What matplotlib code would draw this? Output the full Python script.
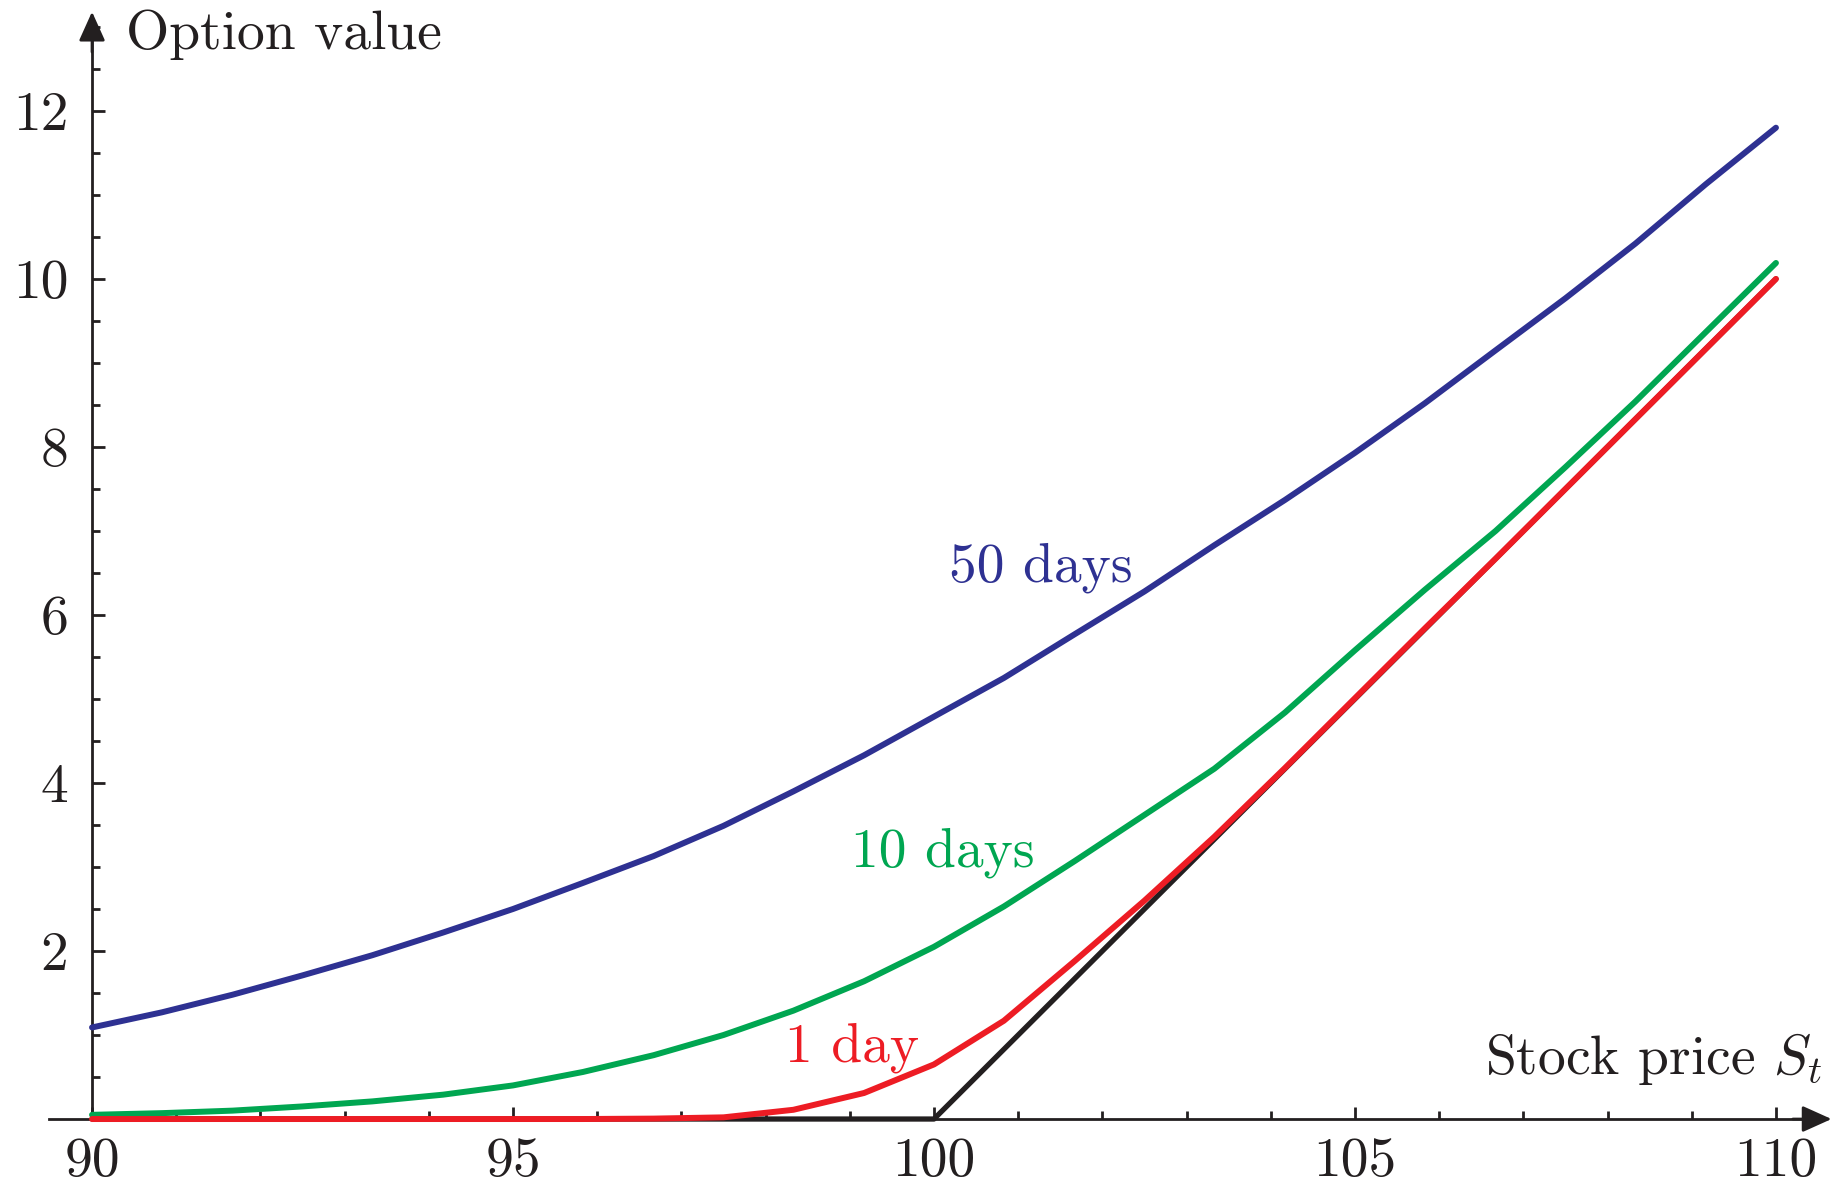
import matplotlib
matplotlib.use("Agg")
import matplotlib.pyplot as plt
from matplotlib.ticker import FixedLocator

# ---- data ----
stock = [90.00, 90.83, 91.67, 92.50, 93.33, 94.17, 95.00, 95.83, 96.67, 97.50,
         98.33, 99.17, 100.00, 100.83, 101.67, 102.50, 103.33, 104.17, 105.00,
         105.83, 106.67, 107.50, 108.33, 109.17, 110.00]
value_50d = [1.09, 1.27, 1.48, 1.71, 1.95, 2.22, 2.50, 2.81, 3.13, 3.49,
             3.90, 4.33, 4.79, 5.25, 5.77, 6.28, 6.83, 7.37, 7.93,
             8.52, 9.15, 9.77, 10.42, 11.13, 11.80]
value_10d = [0.05, 0.07, 0.10, 0.15, 0.21, 0.29, 0.40, 0.56, 0.76, 1.00,
             1.29, 1.64, 2.05, 2.53, 3.07, 3.62, 4.17, 4.84, 5.58,
             6.30, 7.00, 7.76, 8.54, 9.37, 10.19]
value_1d = [0.0, 0.0, 0.0, 0.0, 0.0, 0.0, 0.0, 0.0, 0.005, 0.02,
            0.11, 0.31, 0.65, 1.17, 1.88, 2.60, 3.36, 4.18, 5.01,
            5.84, 6.67, 7.50, 8.33, 9.17, 10.00]
payoff_x = [90, 100, 110]
payoff_y = [0, 0, 10]

x_major = [90, 95, 100, 105, 110]
x_minor = [91, 92, 93, 94, 96, 97, 98, 99, 101, 102, 103, 104, 106, 107, 108, 109]
y_major = [2, 4, 6, 8, 10, 12]
y_minor = [0.5, 1, 1.5, 2.5, 3, 3.5, 4.5, 5, 5.5, 6.5, 7, 7.5, 8.5, 9, 9.5,
           10.5, 11, 11.5, 12.5, 13]

BLUE = "#2E3192"
GREEN = "#00A651"
RED = "#ED1C24"
INK = "#231F20"

plt.rcParams["font.family"] = ["cmr10", "DejaVu Serif"]
plt.rcParams["mathtext.fontset"] = "cm"
plt.rcParams["axes.unicode_minus"] = False
plt.rcParams["axes.formatter.use_mathtext"] = True

FS = 40

fig = plt.figure(figsize=(18.37, 11.88), dpi=100)
ax = fig.add_axes([0, 0, 1, 1])
ax.set_xlim(88.907, 110.725)
ax.set_ylim(-0.821, 13.32)
ax.patch.set_alpha(0)

for s in ("top", "right"):
    ax.spines[s].set_visible(False)
ax.spines["left"].set_position(("data", 90))
ax.spines["bottom"].set_position(("data", 0))
ax.spines["left"].set_bounds(0, 13.0)
ax.spines["bottom"].set_bounds(89.49, 110.4)
for s in ("left", "bottom"):
    ax.spines[s].set_linewidth(2.0)
    ax.spines[s].set_color(INK)
    ax.spines[s].set_zorder(1)

# arrow heads
ax.annotate("", xy=(110.66, 0), xytext=(110.2, 0),
            arrowprops=dict(arrowstyle="-|>,head_length=1.0,head_width=0.45",
                            mutation_scale=18, color=INK, lw=2.0,
                            shrinkA=0, shrinkB=0), zorder=1)
ax.annotate("", xy=(90, 13.18), xytext=(90, 12.7),
            arrowprops=dict(arrowstyle="-|>,head_length=1.0,head_width=0.45",
                            mutation_scale=18, color=INK, lw=2.0,
                            shrinkA=0, shrinkB=0), zorder=1)

ax.xaxis.set_major_locator(FixedLocator(x_major))
ax.xaxis.set_minor_locator(FixedLocator(x_minor))
ax.yaxis.set_major_locator(FixedLocator(y_major))
ax.yaxis.set_minor_locator(FixedLocator(y_minor))
ax.set_xticklabels([str(v) for v in x_major])
ax.set_yticklabels([str(v) for v in y_major])
ax.tick_params(axis="both", which="both", direction="in", color=INK,
               width=2.0, labelsize=FS, labelcolor=INK)
ax.tick_params(axis="both", which="major", length=9)
ax.tick_params(axis="both", which="minor", length=6)
ax.tick_params(axis="x", which="major", pad=13)
ax.tick_params(axis="y", which="major", pad=17)

lw = 4.3
ax.plot(payoff_x, payoff_y, color=INK, lw=3.8, solid_capstyle="round", zorder=3)
ax.plot(stock, value_50d, color=BLUE, lw=lw, solid_capstyle="round", zorder=4)
ax.plot(stock, value_10d, color=GREEN, lw=lw, solid_capstyle="round", zorder=4)
ax.plot(stock, value_1d, color=RED, lw=lw, solid_capstyle="round", zorder=5)

ax.text(90.40, 12.74, "Option value", fontsize=FS, color=INK, ha="left", va="baseline")
ax.text(110.55, 0.54, r"Stock price $S_t$", fontsize=FS, color=INK, ha="right", va="baseline")
ax.text(100.18, 6.40, "50 days", fontsize=FS, color=BLUE, ha="left", va="baseline")
ax.text(99.02, 3.00, "10 days", fontsize=FS, color=GREEN, ha="left", va="baseline")
ax.text(98.23, 0.68, "1 day", fontsize=FS, color=RED, ha="left", va="baseline")

fig.savefig("out.png", dpi=100, facecolor="white")
